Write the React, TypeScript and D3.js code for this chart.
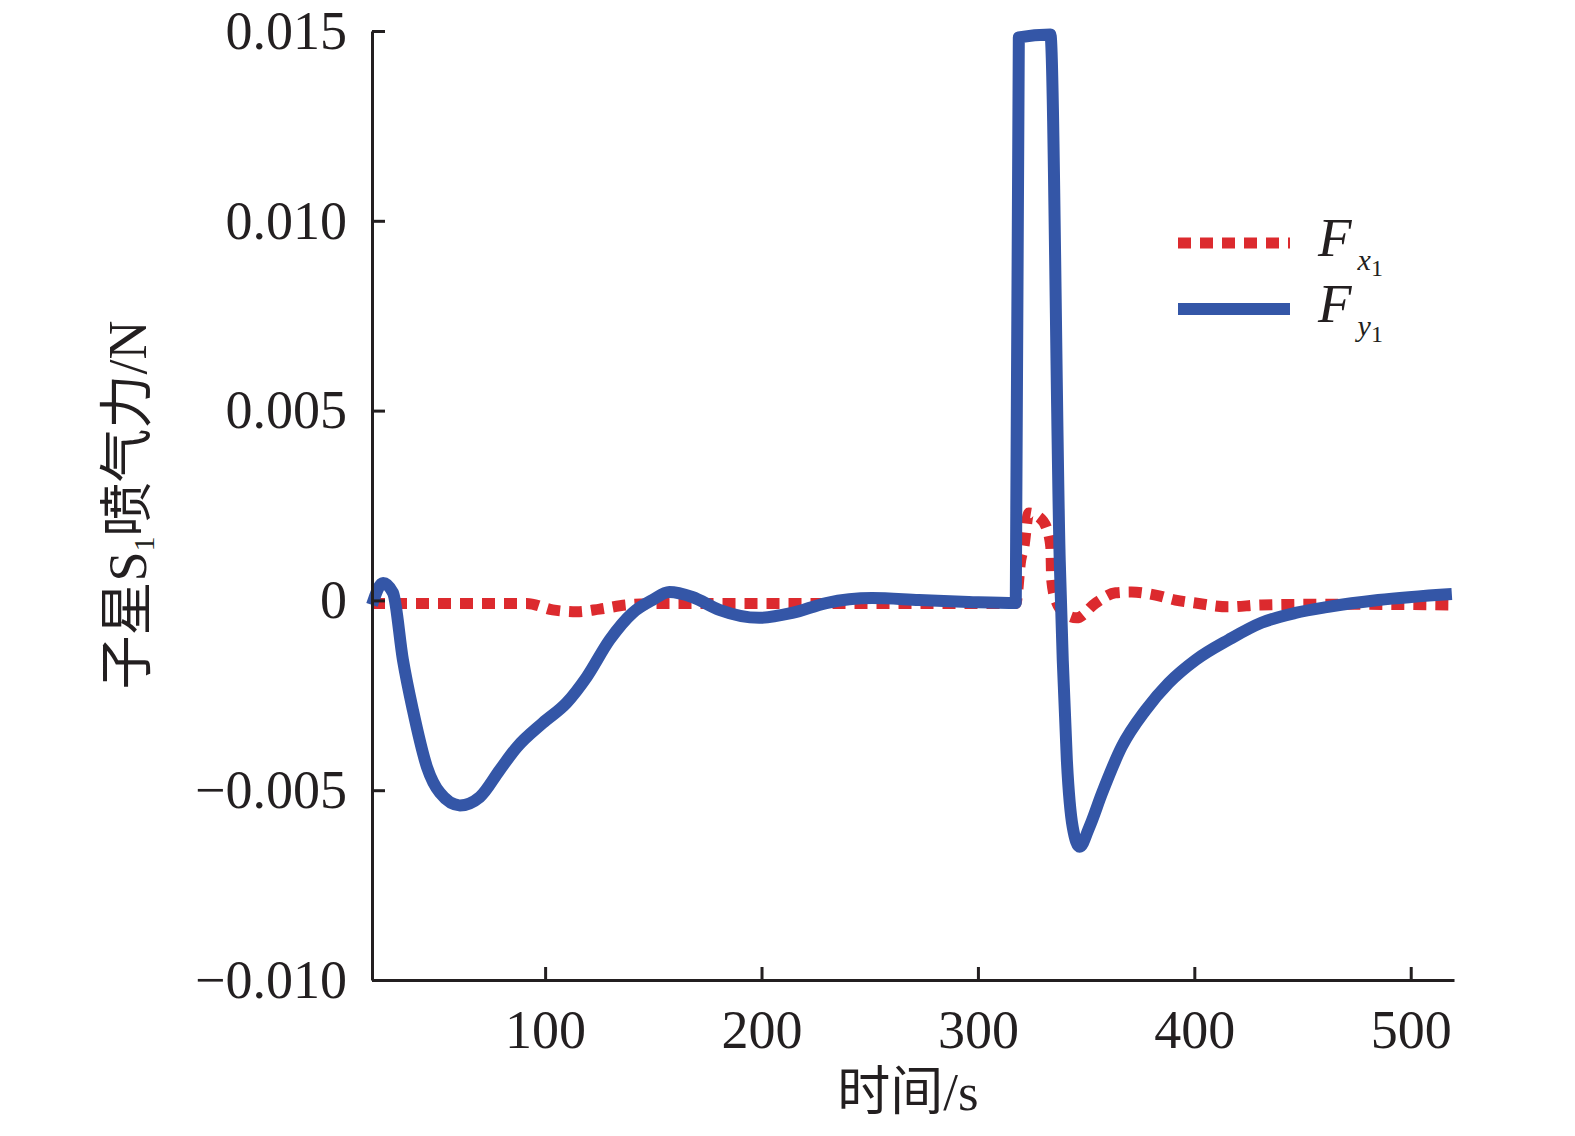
import * as d3 from "d3";
import { useEffect, useRef } from "react";

// time (s) and force (N)
const fyTime = [20, 25.1, 29.7, 34.3, 38.9, 45.4, 51.4, 60.6, 69.8, 79, 86.9, 98.9, 109.9, 119.2, 129.8, 140.4, 149.6, 157.4, 168, 180.5, 198.9, 214.2, 229.9, 251.1, 272.8, 295.8, 317.5, 318.9, 333.5, 337.8, 339.2, 341.1, 343.8, 347, 351.5, 357.4, 366.4, 377.5, 388.1, 400.6, 415.8, 431, 446.7, 461.9, 485, 519];
const fyValue = [-0.00012, 0.00046, 0.0002, -0.00157, -0.00289, -0.00439, -0.00507, -0.0054, -0.00518, -0.00447, -0.00387, -0.00323, -0.0027, -0.00202, -0.00104, -0.00033, 0.00001, 0.00022, 0.00009, -0.00025, -0.00046, -0.00033, -0.00007, 0.00006, 0.00001, -0.00004, -0.00007, 0.01483, 0.01491, 0.00107, -0.00157, -0.00421, -0.00597, -0.00649, -0.00597, -0.00507, -0.00386, -0.00289, -0.00218, -0.00157, -0.00104, -0.00059, -0.00033, -0.00017, 0.00001, 0.00017];

const fxTime = [20, 60, 91.5, 103.5, 114.6, 125.2, 137.6, 152.8, 200, 250, 300, 317.5, 319.8, 321.2, 323.5, 328.1, 331.8, 333.7, 334.1, 336, 340.6, 345.6, 354.4, 363.6, 371, 382.1, 391.3, 400.5, 415.8, 431, 461.9, 519];
const fxValue = [-0.00008, -0.00008, -0.00008, -0.00025, -0.0003, -0.00023, -0.00012, -0.00008, -0.00008, -0.00008, -0.00008, -0.00008, 0.00107, 0.0014, 0.0023, 0.0022, 0.0019, 0.0014, 0.00054, 0, -0.00036, -0.00046, -0.00007, 0.0002, 0.00022, 0.00014, 0.00001, -0.00007, -0.00017, -0.00012, -0.0001, -0.00012];

const xTicks = [100, 200, 300, 400, 500];
const yTicks = [-0.01, -0.005, 0, 0.005, 0.01, 0.015];

const width = 1575;
const height = 1136;
const serif = "'Liberation Serif', 'Times New Roman', 'Noto Sans CJK SC', serif";

const App = () => {
  const xAxisRef = useRef<SVGGElement>(null);
  const yAxisRef = useRef<SVGGElement>(null);

  const x = d3.scaleLinear([20, 520], [372, 1454]);
  const y = d3.scaleLinear([-0.01, 0.015], [980, 31]);

  const line = d3
    .line<[number, number]>()
    .x((d) => x(d[0]))
    .y((d) => y(d[1]))
    .curve(d3.curveMonotoneX);

  const fy = line(fyTime.map((t, i) => [t, fyValue[i]] as [number, number])) ?? "";
  const fx = line(fxTime.map((t, i) => [t, fxValue[i]] as [number, number])) ?? "";

  useEffect(() => {
    const fmt = d3.format(".3f");
    const gx = d3.select(xAxisRef.current!);
    gx.selectAll("*").remove();
    gx.call(
      d3.axisBottom(x).tickValues(xTicks).tickSizeInner(-13).tickSizeOuter(0).tickPadding(30).tickFormat(d3.format("d"))
    );
    const gy = d3.select(yAxisRef.current!);
    gy.selectAll("*").remove();
    gy.call(
      d3
        .axisLeft(y)
        .tickValues(yTicks)
        .tickSizeInner(-13)
        .tickSizeOuter(0)
        .tickPadding(25)
        .tickFormat((d) => (+d === 0 ? "0" : fmt(+d)))
    );
    [gx, gy].forEach((g) => {
      g.attr("font-family", serif).attr("font-size", 54);
      g.selectAll("path,line").attr("stroke", "#231f20").attr("stroke-width", 3);
      g.selectAll("text").attr("fill", "#231f20");
    });
    gx.selectAll("text").attr("dy", "0.71em");
  }, []);

  return (
    <svg width={width} height={height} style={{ position: "absolute", left: 0, top: 0, background: "#fff" }}>
      <path d={fx} fill="none" stroke="#dc2a2e" strokeWidth={11} strokeDasharray="13 9" />
      <path d={fy} fill="none" stroke="#3456a7" strokeWidth={12} strokeLinejoin="round" />
      <g ref={xAxisRef} transform={`translate(0,${y(-0.01)})`} />
      <g ref={yAxisRef} transform={`translate(${x(20)},0)`} />

      <g fontFamily={serif} fill="#231f20">
        <line x1={1178} x2={1290} y1={243} y2={243} stroke="#dc2a2e" strokeWidth={11} strokeDasharray="13 9" />
        <line x1={1178} x2={1290} y1={309} y2={309} stroke="#3456a7" strokeWidth={12} />
        <text x={1318} y={256} fontSize={55} fontStyle="italic">
          F
          <tspan fontSize={30} dx={6} dy={14}>x</tspan>
          <tspan fontSize={24} fontStyle="normal" dy={6}>1</tspan>
        </text>
        <text x={1318} y={322} fontSize={55} fontStyle="italic">
          F
          <tspan fontSize={30} dx={6} dy={14}>y</tspan>
          <tspan fontSize={24} fontStyle="normal" dy={6}>1</tspan>
        </text>

        <text x={908} y={1110} fontSize={53} textAnchor="middle">时间/s</text>
        <text transform="translate(146,505) rotate(-90)" fontSize={54} textAnchor="middle">
          子星S<tspan fontSize={30} dy={8}>1</tspan>
          <tspan dy={-8}>喷气力/N</tspan>
        </text>
      </g>
    </svg>
  );
};

export default App;
